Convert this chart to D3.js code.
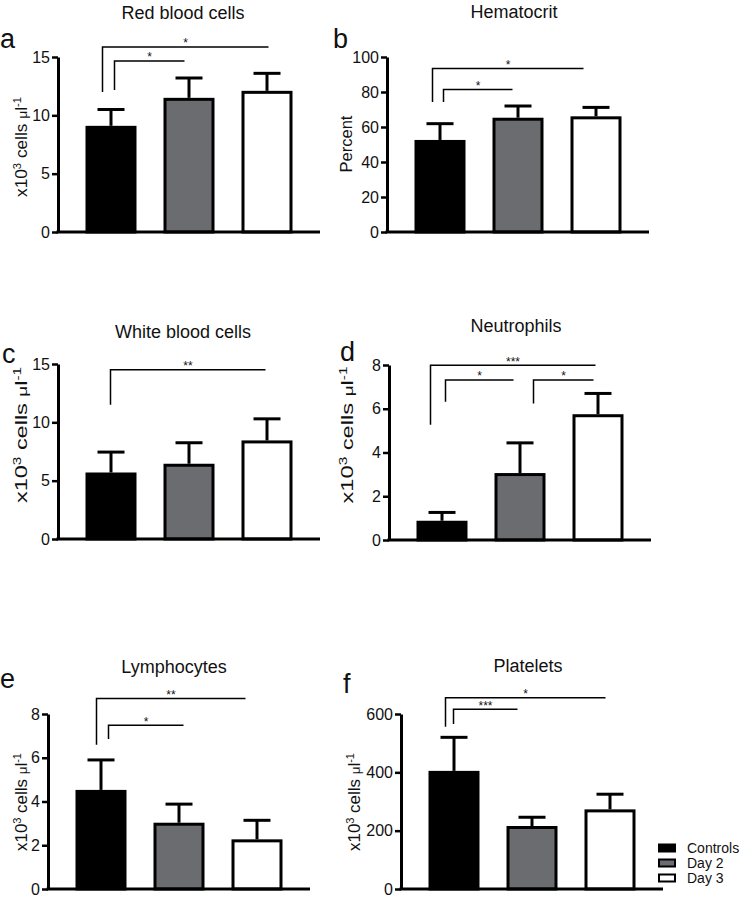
<!DOCTYPE html>
<html>
<head>
<meta charset="utf-8">
<script src="https://cdn.jsdelivr.net/npm/d3@7/dist/d3.min.js"></script>
<style>
  html, body { margin: 0; padding: 0; background: #fff; }
  svg { display: block; font-family: "Liberation Sans", Arial, Helvetica, sans-serif; }
</style>
</head>
<body>
<svg id="chart" width="740" height="900"></svg>
<script>
// ---------------- DATA ----------------
const groups = ["Controls", "Day 2", "Day 3"];
const titles = ["Red blood cells", "Hematocrit", "White blood cells", "Neutrophils", "Lymphocytes", "Platelets"];
const letters = ["a", "b", "c", "d", "e", "f"];
const yLabels = ["cells", "Percent", "cells", "cells", "cells", "cells"];

const rbcMean = [9.1, 11.5, 12.1];
const rbcErr = [1.4, 1.7, 1.5];
const hctMean = [52.6, 65.3, 66.1];
const hctErr = [9.3, 6.7, 5.1];
const wbcMean = [5.7, 6.45, 8.45];
const wbcErr = [1.75, 1.8, 1.85];
const neutMean = [0.88, 3.06, 5.75];
const neutErr = [0.38, 1.38, 0.95];
const lymphMean = [4.53, 3.03, 2.27];
const lymphErr = [1.37, 0.85, 0.87];
const pltMean = [405, 216, 273];
const pltErr = [115, 30, 52];

const rbcTicks = [0, 5, 10, 15];
const hctTicks = [0, 20, 40, 60, 80, 100];
const wbcTicks = [0, 5, 10, 15];
const neutTicks = [0, 2, 4, 6, 8];
const lymphTicks = [0, 2, 4, 6, 8];
const pltTicks = [0, 200, 400, 600];

// significance brackets: from group, to group, bracket level, left-leg bottom (data units), label
const rbcSig = [{from: 0, to: 2, level: 15.86, leg: 12.0, label: "*"}, {from: 0, to: 1, level: 14.66, leg: 12.17, label: "*"}];
const hctSig = [{from: 0, to: 2, level: 93.5, leg: 74.3, label: "*"}, {from: 0, to: 1, level: 81.5, leg: 74.3, label: "*"}];
const wbcSig = [{from: 0, to: 2, level: 14.5, leg: 11.5, label: "**"}];
const neutSig = [{from: 0, to: 2, level: 7.99, leg: 5.27, label: "***"}, {from: 0, to: 1, level: 7.32, leg: 6.32, label: "*"}, {from: 1, to: 2, level: 7.32, leg: 6.24, label: "*"}];
const lymphSig = [{from: 0, to: 2, level: 8.71, leg: 6.59, label: "**"}, {from: 0, to: 1, level: 7.49, leg: 6.86, label: "*"}];
const pltSig = [{from: 0, to: 2, level: 656, leg: 556, label: "*"}, {from: 0, to: 1, level: 616, leg: 566, label: "***"}];

const means = [rbcMean, hctMean, wbcMean, neutMean, lymphMean, pltMean];
const errs = [rbcErr, hctErr, wbcErr, neutErr, lymphErr, pltErr];
const ticks = [rbcTicks, hctTicks, wbcTicks, neutTicks, lymphTicks, pltTicks];
const sigs = [rbcSig, hctSig, wbcSig, neutSig, lymphSig, pltSig];

// ---------------- LAYOUT / STYLE ----------------
const fills = ["#000000", "#6b6c70", "#ffffff"];
const plotH = 175, axisLen = 262;
const layout = [
  {ax: 58,  y0: 232, tx: 183, ty: 19,  lx: 0,   ly: 48,  yx: 27,  yy: 147, ylen: 100, nudges: [[-8.5, 1.5], [3.5, -4.5]]},
  {ax: 387, y0: 232, tx: 514, ty: 18,  lx: 333, ly: 48,  yx: 352, yy: 144, ylen: 0,   nudges: [[-7.5, -12.5], [3.5, -5.5]]},
  {ax: 58,  y0: 539, tx: 183, ty: 338, lx: 2,   ly: 363, yx: 27,  yy: 435, ylen: 136, nudges: [[-0.5, -1.5]]},
  {ax: 389, y0: 540, tx: 516, ty: 332, lx: 340, ly: 361, yx: 353, yy: 435, ylen: 137, nudges: [[-11.5, -2.5], [3.5, -6.5], [13.5, -4.5]]},
  {ax: 48,  y0: 889, tx: 174, ty: 673, lx: 0,   ly: 688, yx: 27,  yy: 802, ylen: 98,  nudges: [[-4.5, -11.5], [7.5, 4.5]]},
  {ax: 401, y0: 889, tx: 528, ty: 672, lx: 343, ly: 693, yx: 360, yy: 802, ylen: 98,  nudges: [[-8.5, -4.5], [-0.5, -14.5]]}
];

const svg = d3.select("#chart");

layout.forEach((L, i) => {
  const g = svg.append("g");
  const tk = ticks[i];
  const y = d3.scaleLinear().domain([0, d3.max(tk)]).range([L.y0, L.y0 - plotH]);
  const x = d3.scaleBand().domain(groups).range([L.ax, L.ax + axisLen])
    .paddingInner(0.3462).paddingOuter(0.3526);
  const bw = x.bandwidth();

  // bars
  g.selectAll("rect.bar").data(groups).enter().append("rect")
    .attr("class", "bar")
    .attr("x", d => x(d) + 1.5)
    .attr("width", bw - 3)
    .attr("y", (d, j) => y(means[i][j]) + 1.5)
    .attr("height", (d, j) => L.y0 - y(means[i][j]) - 1.5)
    .attr("fill", (d, j) => fills[j])
    .attr("stroke", "#000").attr("stroke-width", 3);

  // error bars (upper only)
  const cx = d => x(d) + bw / 2;
  g.selectAll("line.err").data(groups).enter().append("line")
    .attr("x1", cx).attr("x2", cx)
    .attr("y1", (d, j) => y(means[i][j]))
    .attr("y2", (d, j) => y(means[i][j] + errs[i][j]))
    .attr("stroke", "#000").attr("stroke-width", 3);
  g.selectAll("line.cap").data(groups).enter().append("line")
    .attr("x1", d => cx(d) - 13.5).attr("x2", d => cx(d) + 13.5)
    .attr("y1", (d, j) => y(means[i][j] + errs[i][j]))
    .attr("y2", (d, j) => y(means[i][j] + errs[i][j]))
    .attr("stroke", "#000").attr("stroke-width", 3);

  // y axis
  const yAxis = g.append("g").attr("transform", `translate(${L.ax},0)`)
    .call(d3.axisLeft(y).tickValues(tk).tickSize(6).tickSizeOuter(0).tickPadding(2).tickFormat(d3.format("d")));
  yAxis.select(".domain").attr("stroke", "#000").attr("stroke-width", 3);
  yAxis.selectAll(".tick line").attr("stroke", "#000").attr("stroke-width", 2.5);
  yAxis.selectAll(".tick text").attr("font-size", 16).attr("fill", "#111")
    .attr("font-family", "'Liberation Sans', Arial, sans-serif");

  // x axis
  const xAxis = g.append("g").attr("transform", `translate(0,${L.y0})`)
    .call(d3.axisBottom(x).tickValues([]).tickSizeOuter(0));
  xAxis.select(".domain").attr("stroke", "#000").attr("stroke-width", 3)
    .attr("d", `M${L.ax - 1.5},0H${L.ax + axisLen}`);

  // significance brackets
  sigs[i].forEach((s, k) => {
    const n = L.nudges[k];
    const x0 = cx(groups[s.from]) + n[0];
    const x1 = cx(groups[s.to]) + n[1];
    const yl = y(s.level), yb = y(s.leg);
    g.append("path")
      .attr("d", `M${x0},${yb}V${yl}H${x1}`)
      .attr("fill", "none").attr("stroke", "#000").attr("stroke-width", 1.5);
    g.append("text")
      .attr("x", (x0 + x1) / 2).attr("y", yl + 0.5)
      .attr("text-anchor", "middle").attr("font-size", 12).attr("fill", "#111")
      .text(s.label);
  });

  // title
  g.append("text").attr("x", L.tx).attr("y", L.ty)
    .attr("text-anchor", "middle").attr("font-size", 18).attr("fill", "#111")
    .text(titles[i]);

  // panel letter
  g.append("text").attr("x", L.lx).attr("y", L.ly)
    .attr("font-size", 27).attr("fill", "#111").text(letters[i]);

  // y-axis label
  const yl = g.append("text")
    .attr("text-anchor", "middle").attr("fill", "#111");
  if (yLabels[i] === "Percent") {
    yl.attr("font-size", 16.5).text("Percent")
      .attr("transform", `translate(${L.yx},${L.yy}) rotate(-90)`);
  } else {
    yl.attr("font-size", 16);
    yl.append("tspan").text("x10");
    yl.append("tspan").attr("font-size", "0.65em").attr("dy", "-0.55em").text("3");
    yl.append("tspan").attr("dy", "0.36em").text(" " + yLabels[i] + " ");
    yl.append("tspan").attr("font-size", "0.8em").text("\u03bc");
    yl.append("tspan").text("l");
    yl.append("tspan").attr("font-size", "0.65em").attr("dy", "-0.55em").text("-1");
    const w = yl.node().getComputedTextLength();
    const k = L.ylen / w;
    yl.attr("transform", `translate(${L.yx},${L.yy}) rotate(-90) scale(${k},1)`);
  }
});

// legend
const leg = svg.append("g");
const legY = d3.scalePoint().domain(groups).range([848, 878]);
leg.selectAll("rect").data(groups).enter().append("rect")
  .attr("x", 659).attr("width", 16)
  .attr("y", d => legY(d) - 3.5).attr("height", 7)
  .attr("fill", (d, j) => fills[j]).attr("stroke", "#000").attr("stroke-width", 2);
leg.selectAll("text").data(groups).enter().append("text")
  .attr("x", 687).attr("y", d => legY(d) + 5)
  .attr("font-size", 14).attr("fill", "#111").text(d => d);
</script>
</body>
</html>
